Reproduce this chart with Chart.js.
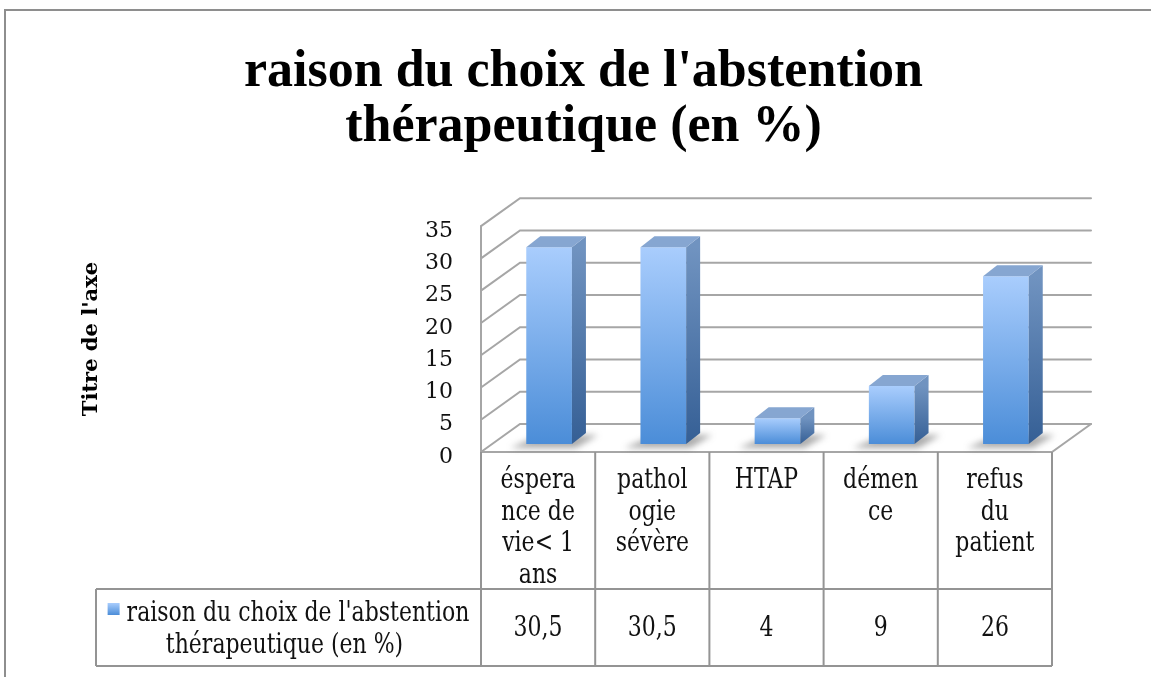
<!DOCTYPE html>
<html><head><meta charset="utf-8">
<script src="https://cdn.jsdelivr.net/npm/chart.js@4.4.0/dist/chart.umd.min.js"></script>
<style>html,body{margin:0;padding:0;background:#fff;overflow:hidden}</style>
</head><body>
<canvas id="c" width="1151" height="677" style="display:block;width:1151px;height:677px"></canvas>
<script>
// ---- data ----
const titleLines = ["raison du choix de l'abstention", "thérapeutique (en %)"];
const categories = [["éspera","nce de","vie< 1","ans"], ["pathol","ogie","sévère"], ["HTAP"], ["démen","ce"], ["refus","du","patient"]];
const seriesNameLines = ["raison du choix de l'abstention", "thérapeutique (en %)"];
const values = [30.5, 30.5, 4, 9, 26];
const yTicks = [0, 5, 10, 15, 20, 25, 30, 35];
const axisTitle = "Titre de l'axe";

// ---- styling constants ----
const SERIF = "'DejaVu Serif', serif";
const GRID = '#a6a6a6';
const TABLE = '#949494';
const TXT = '#111';
const DEPTH = {x: 39, y: -28};      // wall depth
const BAR_SHIFT = {x: 11, y: -8};   // bar row position inside depth
const BAR_DEPTH = {x: 14, y: -11};  // bar thickness
const TABLE_ROW = 589, TABLE_BOTTOM = 666, LEGEND_LEFT = 96;
const STRETCH = 1.3;                // vertical stretch of table text

function fmt(v){ return String(v).replace('.', ','); }

function stretchedText(ctx, s, x, baseline){
  ctx.save();
  ctx.scale(1, STRETCH);
  ctx.fillText(s, x, baseline / STRETCH);
  ctx.restore();
}

const box3d = {
  id: 'box3d',
  beforeDraw(chart){
    const ctx = chart.ctx;
    ctx.save();
    ctx.fillStyle = '#fff';
    ctx.fillRect(0, 0, chart.width, chart.height);
    ctx.strokeStyle = '#8e8e8e';
    ctx.lineWidth = 2;
    ctx.beginPath();
    ctx.moveTo(5, 677); ctx.lineTo(5, 10); ctx.lineTo(1151, 10);
    ctx.stroke();
    ctx.restore();
  },
  beforeDatasetsDraw(chart){
    const ctx = chart.ctx, y = chart.scales.y, a = chart.chartArea;
    const L = a.left, R = a.right;
    ctx.save();
    ctx.strokeStyle = GRID;
    ctx.lineWidth = 2;
    ctx.lineCap = 'round';
    yTicks.forEach(v => {
      const py = y.getPixelForValue(v);
      ctx.beginPath();
      ctx.moveTo(L, py);
      ctx.lineTo(L + DEPTH.x, py + DEPTH.y);
      ctx.lineTo(R + DEPTH.x, py + DEPTH.y);
      ctx.stroke();
    });
    const y0 = y.getPixelForValue(0), yTop = y.getPixelForValue(yTicks[yTicks.length-1]);
    ctx.beginPath();
    ctx.moveTo(L, yTop); ctx.lineTo(L, y0); ctx.lineTo(R, y0); ctx.lineTo(R + DEPTH.x, y0 + DEPTH.y);
    ctx.stroke();
    // shadows under bars
    const meta = chart.getDatasetMeta(0);
    ctx.filter = 'blur(3px)';
    ctx.fillStyle = 'rgba(70,70,70,0.45)';
    meta.data.forEach(el => {
      const w = el.width;
      const l = el.x - w/2 + BAR_SHIFT.x, r = el.x + w/2 + BAR_SHIFT.x;
      const b = el.base + BAR_SHIFT.y;
      ctx.beginPath();
      ctx.moveTo(l - 16, b + 4);
      ctx.lineTo(r + 4, b + 4);
      ctx.lineTo(r + BAR_DEPTH.x + 12, b + BAR_DEPTH.y + 2);
      ctx.lineTo(l + BAR_DEPTH.x, b + BAR_DEPTH.y + 2);
      ctx.closePath();
      ctx.fill();
    });
    ctx.filter = 'none';
    ctx.restore();
    ctx.save();
    ctx.translate(BAR_SHIFT.x, BAR_SHIFT.y);
  },
  afterDatasetsDraw(chart){
    const ctx = chart.ctx;
    ctx.restore();
    const meta = chart.getDatasetMeta(0);
    ctx.save();
    meta.data.forEach(el => {
      const w = el.width;
      const l = el.x - w/2 + BAR_SHIFT.x, r = el.x + w/2 + BAR_SHIFT.x;
      const t = el.y + BAR_SHIFT.y, b = el.base + BAR_SHIFT.y;
      const dx = BAR_DEPTH.x, dy = BAR_DEPTH.y;
      const g = ctx.createLinearGradient(0, t, 0, b);
      g.addColorStop(0, '#7093c0'); g.addColorStop(1, '#355f95');
      ctx.fillStyle = g;
      ctx.beginPath();
      ctx.moveTo(r, t); ctx.lineTo(r + dx, t + dy); ctx.lineTo(r + dx, b + dy); ctx.lineTo(r, b);
      ctx.closePath(); ctx.fill();
      ctx.fillStyle = '#86a6d1';
      ctx.beginPath();
      ctx.moveTo(l, t); ctx.lineTo(l + dx, t + dy); ctx.lineTo(r + dx, t + dy); ctx.lineTo(r, t);
      ctx.closePath(); ctx.fill();
    });
    ctx.restore();
  },
  afterDraw(chart){
    const ctx = chart.ctx, x = chart.scales.x, y = chart.scales.y, a = chart.chartArea;
    const L = a.left, R = a.right, n = categories.length, cw = (R - L) / n;
    const y0 = y.getPixelForValue(0);
    ctx.save();
    ctx.strokeStyle = TABLE;
    ctx.lineWidth = 2;
    ctx.beginPath();
    for (let i = 0; i <= n; i++) {
      const bx = L + i * cw;
      ctx.moveTo(bx, y0); ctx.lineTo(bx, TABLE_BOTTOM);
    }
    ctx.moveTo(LEGEND_LEFT, TABLE_ROW); ctx.lineTo(R, TABLE_ROW);
    ctx.moveTo(LEGEND_LEFT, TABLE_BOTTOM); ctx.lineTo(R, TABLE_BOTTOM);
    ctx.moveTo(LEGEND_LEFT, TABLE_ROW); ctx.lineTo(LEGEND_LEFT, TABLE_BOTTOM);
    ctx.stroke();
    // header labels
    ctx.fillStyle = TXT;
    ctx.font = '22px ' + SERIF;
    ctx.textAlign = 'center';
    ctx.textBaseline = 'alphabetic';
    categories.forEach((lines, i) => {
      const cx = x.getPixelForValue(i);
      lines.forEach((s, j) => stretchedText(ctx, s, cx, 488 + j * 31.7));
      stretchedText(ctx, fmt(values[i]), cx, 636);
    });
    // legend cell
    const lc = (LEGEND_LEFT + L) / 2;
    const w1 = ctx.measureText(seriesNameLines[0]).width;
    const icon = 12, gap = 7;
    const start = lc - (icon + gap + w1) / 2;
    const ig = ctx.createLinearGradient(0, 603, 0, 615);
    ig.addColorStop(0, '#a9cdfd'); ig.addColorStop(1, '#4b8dd8');
    ctx.fillStyle = ig;
    ctx.fillRect(start, 603, icon, icon);
    ctx.fillStyle = TXT;
    ctx.textAlign = 'left';
    stretchedText(ctx, seriesNameLines[0], start + icon + gap, 621);
    ctx.textAlign = 'center';
    stretchedText(ctx, seriesNameLines[1], lc - 4, 653);
    ctx.restore();
  }
};

new Chart(document.getElementById('c'), {
  type: 'bar',
  data: {
    labels: categories,
    datasets: [{
      label: seriesNameLines.join(' '),
      data: values,
      clip: false,
      borderWidth: 0,
      categoryPercentage: 1,
      barPercentage: 0.4,
      backgroundColor: (c) => {
        const chart = c.chart;
        if (!chart.chartArea || c.raw === undefined) return '#6fa6e8';
        const yS = chart.scales.y;
        const top = yS.getPixelForValue(c.raw), base = yS.getPixelForValue(0);
        const g = chart.ctx.createLinearGradient(0, top, 0, base);
        g.addColorStop(0, '#a9cdfd'); g.addColorStop(1, '#4b8dd8');
        return g;
      }
    }]
  },
  plugins: [box3d],
  options: {
    responsive: false,
    animation: false,
    devicePixelRatio: 1,
    layout: {padding: {left: 16, right: 0, top: 0, bottom: 0}},
    plugins: {
      legend: {display: false},
      tooltip: {enabled: false},
      title: {
        display: true,
        text: titleLines,
        color: '#000',
        font: {family: "'Liberation Serif', serif", size: 52, weight: 'bold', lineHeight: 1.04},
        padding: {top: 46, bottom: 72}
      }
    },
    scales: {
      x: {
        grid: {display: false, drawTicks: false},
        border: {display: false},
        ticks: {display: false},
        afterFit(s){ s.height = 225; }
      },
      y: {
        min: 0, max: 35,
        afterBuildTicks(s){ s.ticks = yTicks.map(v => ({value: v})); },
        grid: {display: false, drawTicks: false},
        border: {display: false},
        ticks: {padding: 28, labelOffset: 5, color: TXT, font: {family: SERIF, size: 22}},
        title: {display: true, text: axisTitle, color: '#000', font: {family: SERIF, size: 21, weight: 'bold'}, padding: {top: 63, bottom: 0}},
        afterFit(s){ s.width = 465; }
      },
      y2: {
        position: 'right',
        display: true,
        grid: {display: false, drawTicks: false},
        border: {display: false},
        ticks: {display: false},
        afterFit(s){ s.width = 99; }
      }
    }
  }
});
</script>
</body></html>
